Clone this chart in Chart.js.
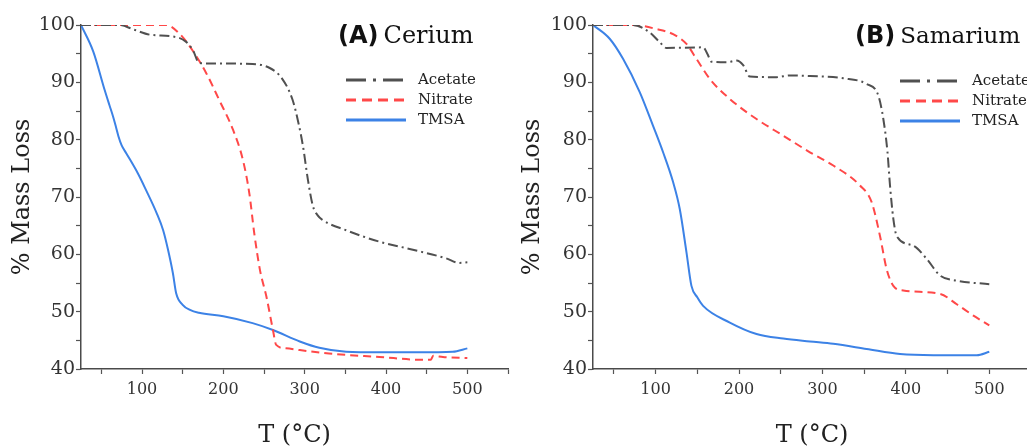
<!DOCTYPE html>
<html>
<head>
<meta charset="utf-8">
<script src="https://cdn.jsdelivr.net/npm/chart.js@4/dist/chart.umd.min.js"></script>
<style>
  html, body { margin: 0; padding: 0; background: #fff; overflow: hidden; }
  body { width: 1027px; height: 448px; position: relative; }
  #panelA { position: absolute; left: 0; top: 0; }
  #panelB { position: absolute; left: 510px; top: 0; }
</style>
</head>
<body>
<canvas id="panelA" width="515" height="448"></canvas>
<canvas id="panelB" width="540" height="448"></canvas>
<script>
// TGA curves, [temperature in C, % mass remaining]
var seriesNames = ['Acetate', 'Nitrate', 'TMSA'];

var ceriumAcetate = [[25,100],[72,100],[90,99.2],[110,98.3],[138,98.0],[154,97.1],[163,95.5],[170,93.4],
  [180,93.3],[236,93.2],[257,92.5],[272,90.7],[285,87],[293,82.5],[298,78.8],[304,73],[310,68.5],
  [316,66.8],[322,66.0],[351,64.2],[392,62.2],[433,60.8],[474,59.3],[490,58.5],[500,58.6]];
var ceriumNitrate = [[25,100],[130,100],[146,98.5],[162,95.6],[179,91.6],[195,86.9],[212,81.7],[224,76.5],
  [232,70.6],[238,63.7],[245,57.3],[253,52.6],[261,46.8],[265,44.2],[277,43.6],[294,43.3],[330,42.7],
  [392,42.1],[445,41.6],[455,41.6],[458,42.3],[470,42.1],[500,41.9]];
var ceriumTmsa = [[25,100],[40,95.4],[54,88.7],[60,86],[64.5,84],[68,82.2],[71,80.6],[75,79.0],[80.8,77.6],
  [95,74.1],[105,71.2],[118,67.2],[126,64.2],[132,60.8],[138,56.7],[142,53.2],[150,51.2],[159,50.3],
  [170,49.8],[200,49.2],[236,48],[261,46.8],[294,44.8],[318,43.7],[351,43.0],[392,42.9],[440,42.9],
  [482,43.0],[500,43.6]];

var samariumAcetate = [[25,100],[73,100],[93,98.7],[105,97],[113,96],[157,96.1],[162,95],[167,93.6],[185,93.5],
  [197,93.8],[205,93],[213,91],[245,90.9],[261,91.2],[285,91.1],[325,90.7],[353,89.7],[367,87.7],
  [373,83.6],[378,77.8],[381,72],[385,66.2],[389,63.2],[409,61.5],[425,59.2],[441,56.3],[461,55.4],[500,54.8]];
var samariumNitrate = [[25,100],[73,100],[101,99.3],[121,98.4],[137,96.7],[149,94.1],[165,90.6],[189,87.1],
  [221,83.6],[253,80.7],[285,77.8],[313,75.5],[345,72.0],[359,69.1],[369,63.2],[377,57.4],[385,54.5],
  [397,53.7],[441,53.1],[461,51.3],[481,49.3],[500,47.6]];
var samariumTmsa = [[25,100],[45,97.6],[61,94.1],[81,88.3],[97,82.4],[109,77.8],[121,72.6],[129,67.9],
  [137,60.4],[143,54.5],[150,52.5],[157,51],[189,48.1],[221,46.1],[253,45.3],[285,44.8],[313,44.4],
  [353,43.5],[393,42.6],[433,42.4],[485,42.4],[500,43.0]];

var tempLabels = [100, 200, 300, 400, 500];
var massLabels = [40, 50, 60, 70, 80, 90, 100];

var lineColors = ['#505050', '#ff4848', '#3c82e6'];
var lineDash = [[10, 4, 2, 4], [8, 5], []];
var legendDash = [[20, 7, 3, 7], [10, 6], []];

var serif = '"DejaVu Serif", serif';

// panel letter, element name and the legend box drawn inside the plot
var panelDecor = {
  id: 'panelDecor',
  afterDraw: function(chart, args, opts) {
    var ctx = chart.ctx;
    var area = chart.chartArea;
    ctx.save();
    var x = area.left + opts.titleX;
    var y = area.top + opts.titleY;
    ctx.textBaseline = 'alphabetic';
    ctx.textAlign = 'left';
    ctx.fillStyle = '#111';
    ctx.font = 'bold 24px "DejaVu Sans"';
    ctx.fillText(opts.letter, x, y);
    x += ctx.measureText(opts.letter).width + 5;
    ctx.font = opts.nameSize + 'px ' + serif;
    ctx.fillText(opts.name, x, y);

    var lx = area.left + opts.legendX;
    chart.data.datasets.forEach(function(ds, i) {
      var ly = area.top + opts.legendY + i * 20;
      ctx.strokeStyle = ds.borderColor;
      ctx.lineWidth = 3;
      ctx.setLineDash(legendDash[i]);
      ctx.beginPath();
      ctx.moveTo(lx, ly);
      ctx.lineTo(lx + 60, ly);
      ctx.stroke();
      ctx.setLineDash([]);
      ctx.fillStyle = '#222';
      ctx.font = '15px ' + serif;
      ctx.textBaseline = 'middle';
      ctx.fillText(ds.label, lx + 72, ly);
    });
    ctx.restore();
  }
};

function toPoints(pairs) {
  return pairs.map(function(p) { return { x: p[0], y: p[1] }; });
}

function makePanel(id, series, deco, axisWidth, padRight) {
  var ctx = document.getElementById(id).getContext('2d');
  return new Chart(ctx, {
    type: 'line',
    data: {
      datasets: series.map(function(s, i) {
        return {
          label: seriesNames[i],
          data: toPoints(s),
          borderColor: lineColors[i],
          borderWidth: 2,
          borderDash: lineDash[i],
          pointRadius: 0,
          fill: false,
          cubicInterpolationMode: 'monotone'
        };
      })
    },
    options: {
      responsive: false,
      animation: false,
      layout: { padding: { top: 25, right: padRight, left: 0, bottom: 0 } },
      plugins: {
        legend: { display: false },
        tooltip: { enabled: false },
        panelDecor: deco
      },
      scales: {
        x: {
          type: 'linear',
          min: 25,
          max: 550,
          afterFit: function(scale) { scale.height = 79; },
          ticks: {
            stepSize: 50,
            includeBounds: false,
            autoSkip: false,
            maxRotation: 0,
            padding: 6,
            color: '#333',
            font: { family: serif, size: 16 },
            callback: function(v) { return tempLabels.indexOf(v) >= 0 ? String(v) : ''; }
          },
          grid: { drawOnChartArea: false, drawTicks: true, tickLength: 5, tickColor: '#555', tickWidth: 1.2 },
          border: { display: true, color: '#4a4a4a', width: 1.5 },
          title: {
            display: true,
            text: 'T (°C)',
            color: '#222',
            font: { family: serif, size: 24, lineHeight: 1 },
            padding: 0
          }
        },
        y: {
          min: 40,
          max: 100,
          afterFit: function(scale) { scale.width = axisWidth; },
          ticks: {
            stepSize: 5,
            autoSkip: false,
            padding: 1,
            color: '#333',
            font: { family: serif, size: 19 },
            callback: function(v) { return massLabels.indexOf(v) >= 0 ? String(v) : ''; }
          },
          grid: { drawOnChartArea: false, drawTicks: true, tickLength: 5, tickColor: '#555', tickWidth: 1.2 },
          border: { display: true, color: '#4a4a4a', width: 1.5 },
          title: {
            display: true,
            text: '% Mass Loss',
            color: '#222',
            font: { family: serif, size: 24, lineHeight: 1 },
            padding: { top: 11, bottom: 0 }
          }
        }
      }
    },
    plugins: [panelDecor]
  });
}

makePanel('panelA', [ceriumAcetate, ceriumNitrate, ceriumTmsa],
  { letter: '(A)', name: 'Cerium', nameSize: 24, titleX: 257, titleY: 18, legendX: 265, legendY: 55 }, 81, 7);
makePanel('panelB', [samariumAcetate, samariumNitrate, samariumTmsa],
  { letter: '(B)', name: 'Samarium', nameSize: 23, titleX: 262, titleY: 18, legendX: 307, legendY: 56 }, 83, 19);
</script>
</body>
</html>
